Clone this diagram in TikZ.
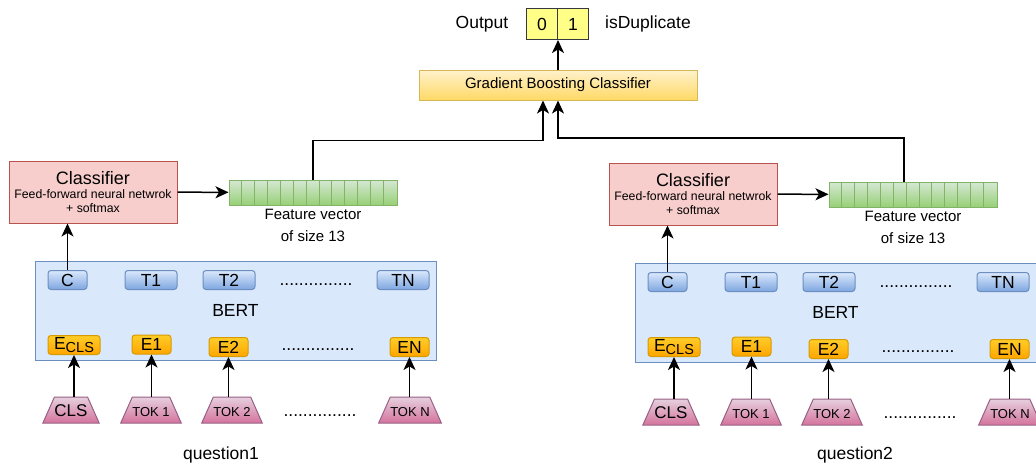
\documentclass[tikz,border=0pt]{standalone}
\usepackage{fontspec}
\setmainfont{Liberation Sans}
\usetikzlibrary{arrows.meta, shapes.geometric, calc}

\definecolor{cfFill}{HTML}{F8CECC}\definecolor{cfLine}{HTML}{B85450}
\definecolor{fvTop}{HTML}{D5E8D4}\definecolor{fvBot}{HTML}{97D077}\definecolor{fvLine}{HTML}{82B366}
\definecolor{bertFill}{HTML}{DAE8FC}\definecolor{bertLine}{HTML}{6C8EBF}
\definecolor{tTop}{HTML}{DAE8FC}\definecolor{tBot}{HTML}{7EA6E0}
\definecolor{eTop}{HTML}{FFCD28}\definecolor{eBot}{HTML}{FFA500}\definecolor{eLine}{HTML}{D79B00}
\definecolor{kTop}{HTML}{E6D0DE}\definecolor{kBot}{HTML}{D5739D}\definecolor{kLine}{HTML}{996185}
\definecolor{gTop}{HTML}{FFF2CC}\definecolor{gBot}{HTML}{FFD966}\definecolor{gLine}{HTML}{D6B656}
\definecolor{outFill}{HTML}{FFFF88}\definecolor{outLine}{HTML}{36393D}

\tikzset{
  big/.style={font=\fontsize{17.5}{21}\selectfont},
  arr/.style={-{Stealth[length=13pt,width=12pt,inset=3.5pt]}, line width=1.5pt},
  clsbox/.style={draw=cfLine, fill=cfFill, line width=1pt, minimum width=168pt, minimum height=62pt,
    inner sep=0, align=center, font=\fontsize{12.3}{14}\selectfont},
  fvbox/.style={draw=fvLine, top color=fvTop, bottom color=fvBot, line width=1pt,
    minimum width=168pt, minimum height=25pt, inner sep=0},
  bertbox/.style={draw=bertLine, fill=bertFill, line width=1pt, minimum width=401pt,
    minimum height=99pt, inner sep=0, big},
  tbox/.style={draw=bertLine, top color=tTop, bottom color=tBot, rounded corners=3pt,
    line width=1pt, minimum height=19pt, inner sep=0, big},
  ebox/.style={draw=eLine, top color=eTop, bottom color=eBot, rounded corners=3pt,
    line width=1pt, minimum width=39pt, minimum height=19pt, inner sep=0, big},
  tok/.style={trapezium, trapezium angle=66, trapezium stretches body=true, draw=kLine,
    top color=kTop, bottom color=kBot, line width=1pt, minimum width=54pt,
    text height=13pt, text depth=1pt, inner ysep=6pt, inner xsep=0pt,
    font=\fontsize{13}{13}\selectfont},
  dots/.style={inner sep=0, big},
  outcell/.style={draw=outLine, fill=outFill, line width=1pt, minimum size=31pt, inner sep=0, big}
}

\begin{document}
\begin{tikzpicture}[x=1pt, y=-1pt]
\useasboundingbox (0,0) rectangle (1036,463);
\clip (0,0) rectangle (1036,463);

% top: classifier and output
\node[draw=gLine, top color=gTop, bottom color=gBot, line width=1pt, minimum width=278pt,
  minimum height=30pt, inner sep=0, font=\fontsize{15}{15}\selectfont] (gbc) at (558,85) {Gradient Boosting Classifier};
\node[outcell] (out0) at (542,24) {0};
\node[outcell] (out1) at (573,24) {1};
\node[big] (outtxt) at (482,24) {Output};
\node[big] (duptxt) at (648,24) {isDuplicate};
\draw[arr] (gbc.north) -- (out0.south east);

% two BERT branches
\foreach \p/\dx/\dy in {a/0/0, b/600/2}{
\begin{scope}[shift={(\dx,\dy)}]
  \node[clsbox] (\p-cf) at (93,192) {{\fontsize{18}{18}\selectfont Classifier}\\Feed-forward neural netwrok\\+ softmax};
  \node[fvbox] (\p-fv) at (313,192.5) {};
  \foreach \i in {1,...,12}
    \draw[fvLine, line width=0.8pt] ([xshift={\i*12.923pt}]\p-fv.north west) -- ([xshift={\i*12.923pt}]\p-fv.south west);
  \node[align=center, font=\fontsize{15}{22}\selectfont] (\p-fvlbl) at (313,225) {Feature vector\\of size 13};
  \node[bertbox] (\p-bert) at (235.5,310.5) {BERT};
  \node[tbox, minimum width=39pt] (\p-c) at (67.5,280) {C};
  \node[tbox, minimum width=52pt] (\p-t1) at (151,280) {T1};
  \node[tbox, minimum width=52pt] (\p-t2) at (229,280) {T2};
  \node[dots] (\p-tdots) at (316,285) {...............};
  \node[tbox, minimum width=52pt] (\p-tn) at (403,280) {TN};
  \node[ebox, minimum width=52pt] (\p-ecls) at (74,345) {E\raisebox{-0.35ex}{\fontsize{14.5}{14.5}\selectfont CLS}};
  \node[ebox] (\p-e1) at (151.5,344.5) {E1};
  \node[ebox] (\p-e2) at (228.5,347) {E2};
  \node[dots] (\p-edots) at (318,350) {...............};
  \node[ebox] (\p-en) at (409.5,347) {EN};
  \node[tok, font=\fontsize{17}{17}\selectfont] (\p-kcls) at (71,410) {CLS};
  \node[tok] (\p-k1) at (151,410) {TOK 1};
  \node[tok] (\p-k2) at (232,410) {TOK 2};
  \node[dots] (\p-kdots) at (320,416) {...............};
  \node[tok] (\p-kn) at (410,410) {TOK N};
  \foreach \e/\k in {ecls/kcls, e1/k1, e2/k2, en/kn}
    \draw[arr] (\p-\e.south |- \p-\k.north) -- (\p-\e.south);
  \draw[arr] (\p-c.north) -- (\p-c.north |- \p-cf.south);
  \draw[arr] (\p-cf) -- (\p-fv);
\end{scope}
}

\node[big] (q1) at (221,455) {question1};
\node[big] (q2) at (855,455) {question2};

% feature vectors into the boosting classifier
\coordinate (inA) at ([xshift=-15pt]gbc.south);
\coordinate (inB) at (gbc.south);
\draw[arr] (a-fv.north) -- ++(0,-39) -| (inA);
\draw[arr] ([xshift=-9pt]b-fv.north) -- ++(0,-43.5) -| (inB);
\end{tikzpicture}
\end{document}
